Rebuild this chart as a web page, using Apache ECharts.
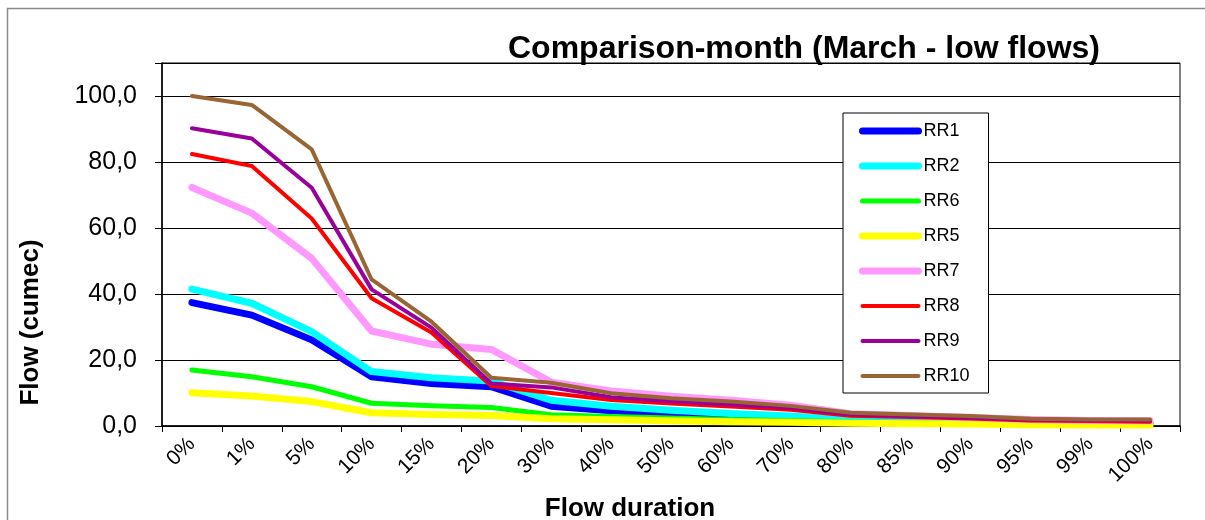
<!DOCTYPE html>
<html>
<head>
<meta charset="utf-8">
<script src="https://cdn.jsdelivr.net/npm/echarts@6/dist/echarts.min.js"></script>
<style>
html,body{margin:0;padding:0;background:#fff;}
#chart{width:1205px;height:520px;}
</style>
</head>
<body>
<div id="chart"></div>
<script>
const categories = ['0%','1%','5%','10%','15%','20%','30%','40%','50%','60%','70%','80%','85%','90%','95%','99%','100%'];
const yTicks = [0, 20, 40, 60, 80, 100];
const RR1  = [37.4, 33.6, 26.1, 14.9, 12.9, 11.9, 6.0, 4.6, 3.6, 2.6, 2.0, 1.3, 1.1, 0.9, 0.7, 0.6, 0.5];
const RR2  = [41.5, 37.2, 28.6, 16.5, 14.6, 13.6, 7.8, 6.0, 4.8, 3.8, 3.0, 1.9, 1.6, 1.3, 1.0, 0.8, 0.7];
const RR6  = [17.0, 14.9, 11.9, 6.9, 6.1, 5.6, 3.4, 2.9, 2.4, 2.0, 1.7, 1.2, 1.0, 0.8, 0.6, 0.5, 0.4];
const RR5  = [10.1, 9.1, 7.4, 4.0, 3.5, 3.2, 2.2, 1.9, 1.6, 1.3, 1.1, 0.8, 0.7, 0.6, 0.4, 0.3, 0.3];
const RR7  = [72.3, 64.5, 50.8, 28.8, 24.8, 23.2, 13.3, 10.6, 9.0, 7.8, 6.3, 3.7, 3.2, 2.6, 2.0, 1.7, 1.6];
const RR8  = [82.4, 78.8, 62.9, 38.7, 28.3, 12.1, 10.0, 7.9, 6.8, 5.9, 4.9, 3.1, 2.7, 2.3, 1.7, 1.5, 1.3];
const RR9  = [90.2, 87.1, 72.2, 41.4, 29.8, 12.9, 11.7, 8.7, 7.5, 6.5, 5.5, 3.5, 3.0, 2.5, 2.0, 1.8, 1.7];
const RR10 = [100.0, 97.3, 83.8, 44.4, 31.6, 14.6, 13.1, 9.9, 8.4, 7.4, 6.1, 4.0, 3.5, 3.0, 2.2, 2.0, 2.0];

const seriesDefs = [
  {name:'RR1',  data:RR1,  color:'#0000FF', width:7},
  {name:'RR2',  data:RR2,  color:'#00FFFF', width:7},
  {name:'RR6',  data:RR6,  color:'#00FF00', width:5},
  {name:'RR5',  data:RR5,  color:'#FFFF00', width:7},
  {name:'RR7',  data:RR7,  color:'#FF99FF', width:7},
  {name:'RR8',  data:RR8,  color:'#FF0000', width:4},
  {name:'RR9',  data:RR9,  color:'#990099', width:4},
  {name:'RR10', data:RR10, color:'#996633', width:4}
];

const FONT = 'Liberation Sans, Arial, sans-serif';
const chart = echarts.init(document.getElementById('chart'));
chart.setOption({
  backgroundColor:'#fff',
  animation:false,
  textStyle:{fontFamily:FONT},
  graphic:[{
    type:'rect', silent:true, z:-1,
    shape:{x:7.5, y:8.5, width:1240, height:560},
    style:{fill:'none', stroke:'#8a8a8a', lineWidth:1.5}
  }],
  title:{
    text:'Comparison-month (March - low flows)',
    left:799, top:28, textAlign:'center',
    textStyle:{fontFamily:FONT, fontWeight:'bold', fontSize:32, color:'#000'}
  },
  legend:{
    orient:'vertical', left:843, top:113,
    backgroundColor:'#fff', borderColor:'#000', borderWidth:1,
    padding:[8,19,7,16],
    itemWidth:56, itemHeight:20, itemGap:15,
    itemStyle:{opacity:0},
    lineStyle:{width:'inherit', cap:'round'},
    textStyle:{fontFamily:FONT, fontSize:18, color:'#000', lineHeight:20},
    data: seriesDefs.map(s=>s.name)
  },
  grid:{left:162, right:25, top:63, bottom:94, show:true, borderColor:'#000', borderWidth:1,
        containLabel:false, outerBoundsMode:'none'},
  xAxis:{
    type:'category', data:categories, boundaryGap:true,
    name:'Flow duration', nameLocation:'middle', nameGap:70,
    nameTextStyle:{fontFamily:FONT, fontWeight:'bold', fontSize:26, color:'#000', padding:[0,82,0,0]},
    axisLine:{lineStyle:{color:'#000', width:1.5}},
    axisTick:{show:true, interval:0, length:6, lineStyle:{color:'#000'}},
    axisLabel:{interval:0, rotate:45, margin:15, fontSize:21, color:'#000', fontFamily:FONT},
    splitLine:{show:false}
  },
  yAxis:{
    type:'value', min:0, max:110, interval:20,
    name:'Flow (cumec)', nameLocation:'middle', nameGap:118, nameRotate:90,
    nameTextStyle:{fontFamily:FONT, fontWeight:'bold', fontSize:26, color:'#000', padding:[0,156,0,0]},
    axisLine:{show:true, lineStyle:{color:'#000', width:1.5}},
    axisTick:{show:true, length:7, lineStyle:{color:'#000'}},
    axisLabel:{margin:25, fontSize:25, color:'#000', fontFamily:FONT,
      formatter:function(v){ return yTicks.indexOf(v) >= 0 ? v.toFixed(1).replace('.', ',') : ''; }},
    splitLine:{show:true, lineStyle:{color:'#000', width:1}}
  },
  series: seriesDefs.map(s=>({
    name:s.name, type:'line', data:s.data, symbol:'none', smooth:false,
    color:s.color,
    lineStyle:{color:s.color, width:s.width, cap:'round', join:'round'},
    emphasis:{disabled:true}
  }))
});
</script>
</body>
</html>
